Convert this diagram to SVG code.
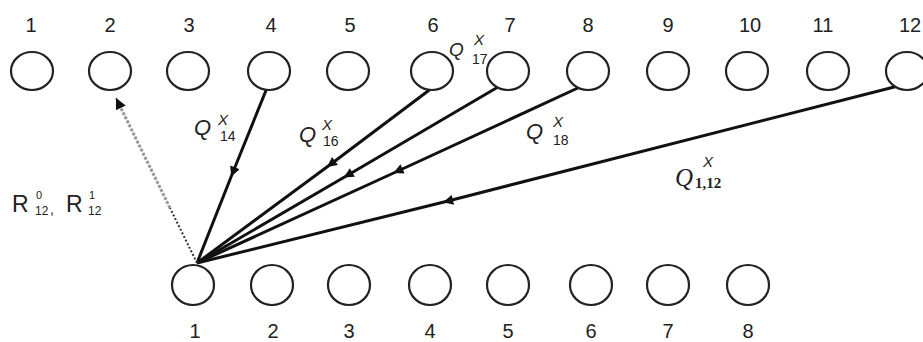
<svg xmlns="http://www.w3.org/2000/svg" width="923" height="342" viewBox="0 0 923 342">
<style>
.node{fill:#fff;stroke:#222;stroke-width:2.2}
.num{font-family:"Liberation Sans",Arial,sans-serif;font-size:20px;fill:#222;text-anchor:middle}
.q{font-family:"Liberation Sans",Arial,sans-serif;font-style:italic;font-size:22px;fill:#222}
.qx{font-size:15px}
.qs{font-style:normal;font-size:14px}
.r{font-family:"Liberation Sans",Arial,sans-serif;font-size:23px;fill:#222}
.edge{fill:none;stroke:#111;stroke-width:3;marker-mid:url(#arr)}
</style>
<defs>
<marker id="arr" viewBox="0 0 10 10" refX="5" refY="5" markerWidth="11" markerHeight="10" markerUnits="userSpaceOnUse" orient="auto">
<path d="M0,0 L10,5 L0,10 Z" fill="#111"/>
</marker>
<marker id="arr2" viewBox="0 0 10 10" refX="10" refY="5" markerWidth="11" markerHeight="11" markerUnits="userSpaceOnUse" orient="auto">
<path d="M0,0 L10,5 L0,10 Z" fill="#111"/>
</marker>
</defs>
<rect width="923" height="342" fill="#fff"/>
<g id="connectors">
<path class="edge" d="M267,88 L233,172 L197,263"/>
<path class="edge" d="M432,88 L331,164 L197,263"/>
<path class="edge" d="M498,87 L348,175 L197,263"/>
<path class="edge" d="M580,87 L398,171 L197,263"/>
<path class="edge" d="M902,85 L448,201 L197,263"/>
<line x1="197" y1="263" x2="170" y2="208" stroke="#333" stroke-width="2" stroke-dasharray="2,2"/>
<line x1="170" y1="208" x2="116" y2="98" stroke="#999" stroke-width="3" stroke-dasharray="3,1.5" marker-end="url(#arr2)"/>
</g>
<g id="top-1"><ellipse class="node" cx="32" cy="71" rx="21" ry="19"/><text class="num" x="31" y="32">1</text></g>
<g id="top-2"><ellipse class="node" cx="110" cy="71" rx="21" ry="19"/><text class="num" x="110" y="32">2</text></g>
<g id="top-3"><ellipse class="node" cx="188" cy="71" rx="21" ry="19"/><text class="num" x="189" y="32">3</text></g>
<g id="top-4"><ellipse class="node" cx="269" cy="71" rx="21" ry="19"/><text class="num" x="271" y="32">4</text></g>
<g id="top-5"><ellipse class="node" cx="348" cy="71" rx="21" ry="19"/><text class="num" x="350" y="32">5</text></g>
<g id="top-6"><ellipse class="node" cx="432" cy="71" rx="21" ry="19"/><text class="num" x="433" y="32">6</text></g>
<g id="top-7"><ellipse class="node" cx="508" cy="71" rx="21" ry="19"/><text class="num" x="510" y="32">7</text></g>
<g id="top-8"><ellipse class="node" cx="588" cy="71" rx="21" ry="19"/><text class="num" x="588" y="32">8</text></g>
<g id="top-9"><ellipse class="node" cx="668" cy="71" rx="21" ry="19"/><text class="num" x="668" y="32">9</text></g>
<g id="top-10"><ellipse class="node" cx="747" cy="71" rx="21" ry="19"/><text class="num" x="750" y="32">10</text></g>
<g id="top-11"><ellipse class="node" cx="828" cy="71" rx="21" ry="19"/><text class="num" x="823" y="32">11</text></g>
<g id="top-12"><ellipse class="node" cx="907" cy="71" rx="21" ry="19"/><text class="num" x="910" y="32">12</text></g>
<g id="bottom-1"><ellipse class="node" cx="193" cy="285" rx="21" ry="20"/><text class="num" x="195" y="338">1</text></g>
<g id="bottom-2"><ellipse class="node" cx="272" cy="285" rx="21" ry="20"/><text class="num" x="273" y="338">2</text></g>
<g id="bottom-3"><ellipse class="node" cx="349" cy="285" rx="21" ry="20"/><text class="num" x="349" y="338">3</text></g>
<g id="bottom-4"><ellipse class="node" cx="430" cy="285" rx="21" ry="20"/><text class="num" x="430" y="338">4</text></g>
<g id="bottom-5"><ellipse class="node" cx="508" cy="285" rx="21" ry="20"/><text class="num" x="508" y="338">5</text></g>
<g id="bottom-6"><ellipse class="node" cx="591" cy="285" rx="21" ry="20"/><text class="num" x="591" y="338">6</text></g>
<g id="bottom-7"><ellipse class="node" cx="668" cy="285" rx="21" ry="20"/><text class="num" x="668" y="338">7</text></g>
<g id="bottom-8"><ellipse class="node" cx="748" cy="285" rx="21" ry="20"/><text class="num" x="748" y="338">8</text></g>
<g id="labels">
<text class="q" x="194" y="135">Q<tspan class="qx" x="218" y="125">X</tspan><tspan class="qs" x="220" y="141">14</tspan></text>
<text class="q" x="299" y="142">Q<tspan class="qx" x="322" y="130">X</tspan><tspan class="qs" x="323" y="146">16</tspan></text>
<text class="q" x="449" y="56" style="font-size:19px">Q<tspan class="qx" x="474" y="45">X</tspan><tspan class="qs" x="472" y="64">17</tspan></text>
<text class="q" x="526" y="139">Q<tspan class="qx" x="553" y="127">X</tspan><tspan class="qs" x="553" y="145">18</tspan></text>
<text x="675" y="186" style="font-family:'Liberation Serif','Times New Roman',serif;font-style:italic;font-size:25px;fill:#222">Q<tspan x="703" y="167" style="font-family:'Liberation Sans',Arial,sans-serif;font-size:15px">X</tspan><tspan x="695" y="188" style="font-style:normal;font-weight:bold;font-size:15px">1,12</tspan></text>
<text class="r" x="12" y="212">R<tspan x="36" y="199" style="font-size:11px">0</tspan><tspan x="35" y="215" style="font-size:12px">12</tspan><tspan x="50" y="214" style="font-size:14px">,</tspan><tspan x="66" y="212">R</tspan><tspan x="89" y="199" style="font-size:11px">1</tspan><tspan x="88" y="215" style="font-size:12px">12</tspan></text>
</g>
</svg>
